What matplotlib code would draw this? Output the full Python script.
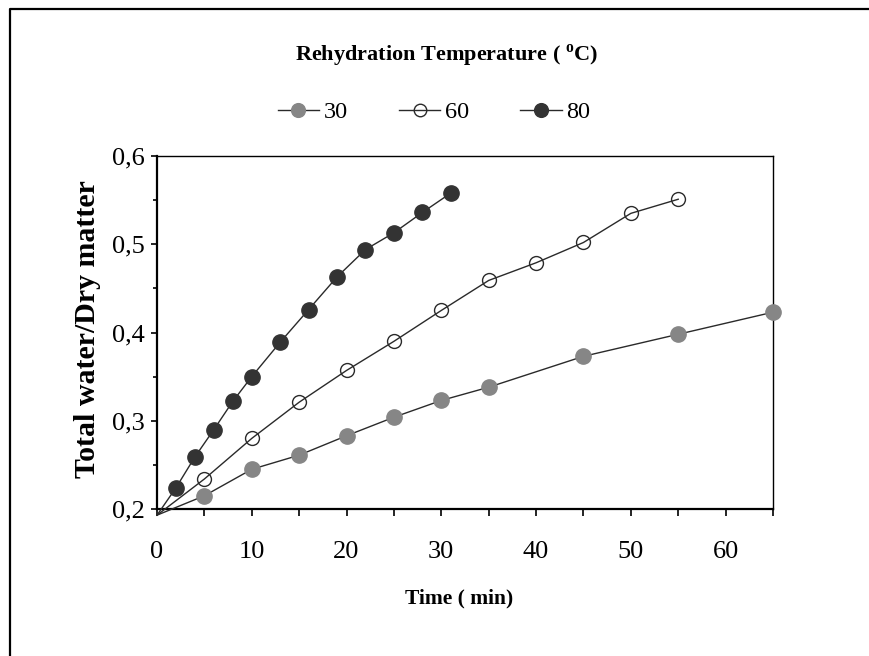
import matplotlib
matplotlib.use("Agg")
import matplotlib.pyplot as plt
from matplotlib.lines import Line2D
from matplotlib.ticker import MultipleLocator, FuncFormatter

# rehydration curves, first point is the common start at t=0
time_30 = [0, 5, 10, 15, 20, 25, 30, 35, 45, 55, 65]
ratio_30 = [0.193, 0.215, 0.245, 0.261, 0.283, 0.304, 0.323, 0.338, 0.373, 0.398, 0.423]

time_60 = [0, 5, 10, 15, 20, 25, 30, 35, 40, 45, 50, 55]
ratio_60 = [0.193, 0.234, 0.280, 0.321, 0.357, 0.390, 0.425, 0.459, 0.479, 0.502, 0.535, 0.551]

time_80 = [0, 2, 4, 6, 8, 10, 13, 16, 19, 22, 25, 28, 31]
ratio_80 = [0.193, 0.224, 0.259, 0.290, 0.322, 0.350, 0.389, 0.426, 0.463, 0.494, 0.513, 0.536, 0.558]

labels = ['30', '60', '80']

W, H = 869, 656
plt.rcParams['font.family'] = 'Liberation Serif'
plt.rcParams['mathtext.fontset'] = 'custom'
plt.rcParams['mathtext.rm'] = 'Liberation Serif'
plt.rcParams['mathtext.bf'] = 'Liberation Serif:bold'

fig = plt.figure(figsize=(W / 100, H / 100), dpi=100)
ax = fig.add_axes([157 / W, 1 - 509 / H, (773 - 157) / W, (509 - 156) / H])

line_col = '#2a2a2a'
gray = '#868686'
dark = '#333333'

l30, = ax.plot(time_30, ratio_30, color=line_col, lw=1.0, marker='o', ms=11,
               mfc=gray, mec=gray, markevery=slice(1, None), clip_on=False, zorder=3)
l60, = ax.plot(time_60, ratio_60, color=line_col, lw=1.0, marker='o', ms=10,
               mfc='none', mec=line_col, mew=1.0, markevery=slice(1, None), clip_on=False, zorder=3)
l80, = ax.plot(time_80, ratio_80, color=line_col, lw=1.0, marker='o', ms=11,
               mfc=dark, mec=dark, markevery=slice(1, None), clip_on=False, zorder=3)

ax.set_xlim(0, 65)
ax.set_ylim(0.2, 0.6)

ax.xaxis.set_major_locator(MultipleLocator(10))
ax.xaxis.set_minor_locator(MultipleLocator(5))
ax.yaxis.set_major_locator(MultipleLocator(0.1))
ax.yaxis.set_minor_locator(MultipleLocator(0.05))
ax.yaxis.set_major_formatter(FuncFormatter(lambda v, p: f'{v:.1f}'.replace('.', ',')))

ax.tick_params(axis='x', which='both', direction='out', length=5, width=1.2,
               labelsize=19, pad=18)
ax.tick_params(axis='y', which='major', direction='out', length=4.5, width=1.2,
               labelsize=19, pad=4)
ax.tick_params(axis='y', which='minor', direction='out', length=3, width=1.2)

ax.spines['left'].set_linewidth(1.6)
ax.spines['bottom'].set_linewidth(1.6)
ax.spines['top'].set_linewidth(1.0)
ax.spines['right'].set_linewidth(1.0)

#axis labels
ax.set_xlabel('Time ( min)', fontsize=15.5, fontweight='bold')
ax.xaxis.set_label_coords(0.49, (509 - 598) / 353)
ax.xaxis.label.set_va('center')
ax.set_ylabel('Total water/Dry matter', fontsize=21.5, fontweight='bold')
ax.yaxis.set_label_coords((88 - 157) / 616, 0.51)
ax.yaxis.label.set_va('center')

# legend title and legend above the plot
fig.text(447 / W, 1 - 56 / H, r'Rehydration Temperature ( $^{\mathbf{o}}$C)',
         ha='center', va='center', fontsize=16, fontweight='bold')
fig.legend([l30, l60, l80], labels, loc='center', bbox_to_anchor=(434 / W, 1 - 112 / H),
           ncol=3, frameon=False, prop={'size': 17.5}, handlelength=1.7,
           handletextpad=0.2, columnspacing=2.1, markerscale=0.9)

# outer frame (left and top edge only visible)
fig.add_artist(Line2D([10 / W, 10 / W, 1], [0, 1 - 9 / H, 1 - 9 / H],
                      transform=fig.transFigure, color='black', lw=1.6))

fig.savefig('out.png', dpi=100)
